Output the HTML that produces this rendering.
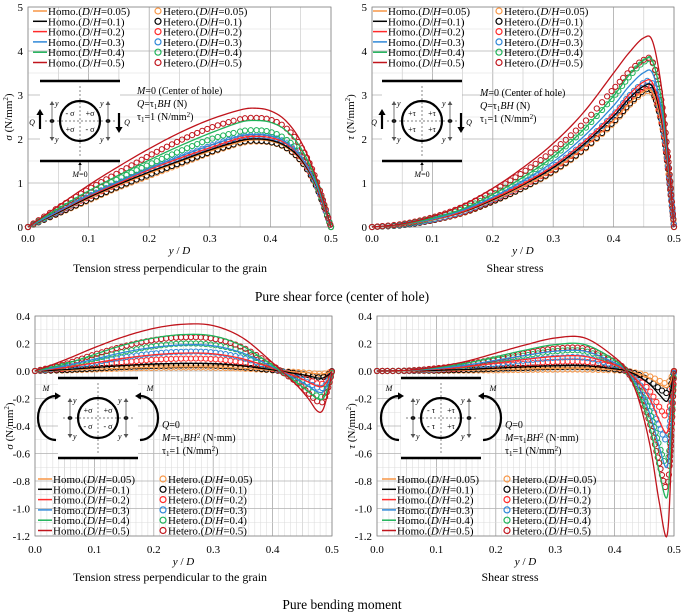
<!DOCTYPE html>
<html><head><meta charset="utf-8"><style>
body{margin:0;background:#fff;}
svg{display:block;font-family:"Liberation Serif",serif;}
svg text{font-family:"Liberation Serif",serif;}
</style></head><body>
<svg id="fig" width="685" height="616" viewBox="0 0 685 616" xmlns="http://www.w3.org/2000/svg" font-family="Liberation Serif, serif"></svg>
<script>
const colors=['#f79646','#000000','#ff2a2a','#2f88d8','#1fb35a','#c0141c'];
const labelsDH=['0.05','0.1','0.2','0.3','0.4','0.5'];

// Panel 1: tension stress, pure shear
const p1X=[0,0.05,0.1,0.15,0.2,0.25,0.3,0.35,0.375,0.4,0.425,0.45,0.475,0.5];
const p1Homo=[
[0,0.32,0.65,0.95,1.22,1.48,1.72,1.93,1.98,1.95,1.82,1.52,0.95,0],
[0,0.33,0.67,0.97,1.25,1.5,1.75,1.96,2.0,1.97,1.84,1.54,0.96,0],
[0,0.35,0.7,1.0,1.3,1.56,1.8,2.02,2.06,2.03,1.9,1.58,0.98,0],
[0,0.36,0.72,1.03,1.33,1.6,1.85,2.07,2.1,2.07,1.93,1.6,1.0,0],
[0,0.42,0.82,1.18,1.52,1.84,2.13,2.38,2.42,2.38,2.2,1.8,1.08,0],
[0,0.48,0.95,1.38,1.78,2.14,2.44,2.66,2.7,2.64,2.42,1.95,1.15,0]];
const p1Het=[
[0,0.3,0.6,0.9,1.16,1.42,1.68,1.9,1.94,1.92,1.8,1.5,0.94,0],
[0,0.31,0.62,0.92,1.19,1.45,1.7,1.92,1.96,1.93,1.81,1.51,0.95,0],
[0,0.34,0.68,0.99,1.28,1.54,1.8,2.0,2.04,2.01,1.88,1.57,0.97,0],
[0,0.35,0.7,1.01,1.31,1.58,1.84,2.05,2.08,2.05,1.92,1.6,0.99,0],
[0,0.38,0.76,1.1,1.42,1.72,1.99,2.17,2.2,2.16,2.0,1.66,1.02,0],
[0,0.44,0.86,1.24,1.62,1.96,2.25,2.45,2.48,2.44,2.26,1.84,1.1,0]];

// Panel 2: shear stress, pure shear
const p2X=[0,0.05,0.1,0.15,0.2,0.25,0.3,0.35,0.4,0.425,0.45,0.465,0.48,0.49,0.5];
const p2Homo=[
[0,0.05,0.16,0.33,0.6,0.92,1.3,1.8,2.42,2.8,3.08,3.05,2.3,1.3,0],
[0,0.05,0.17,0.34,0.62,0.96,1.35,1.87,2.52,2.91,3.2,3.17,2.39,1.35,0],
[0,0.05,0.17,0.35,0.64,0.98,1.39,1.93,2.59,3.0,3.3,3.26,2.46,1.39,0],
[0,0.06,0.18,0.38,0.68,1.05,1.48,2.05,2.76,3.19,3.51,3.48,2.62,1.48,0],
[0,0.06,0.2,0.41,0.74,1.13,1.6,2.21,2.98,3.44,3.79,3.75,2.83,1.6,0],
[0,0.07,0.24,0.5,0.88,1.35,1.9,2.6,3.5,3.95,4.3,4.2,3.1,1.7,0]];
const p2Het=[
[0,0.04,0.15,0.31,0.57,0.88,1.25,1.74,2.36,2.75,3.05,3.02,2.3,1.3,0],
[0,0.04,0.15,0.32,0.58,0.89,1.27,1.76,2.39,2.78,3.1,3.06,2.33,1.32,0],
[0,0.05,0.16,0.33,0.61,0.94,1.33,1.84,2.48,2.87,3.18,3.14,2.37,1.34,0],
[0,0.05,0.17,0.35,0.63,0.97,1.37,1.9,2.56,2.97,3.28,3.24,2.44,1.38,0],
[0,0.06,0.2,0.41,0.74,1.13,1.6,2.2,2.96,3.4,3.75,3.72,2.8,1.6,0],
[0,0.07,0.22,0.46,0.82,1.24,1.74,2.36,3.14,3.52,3.8,3.74,2.8,1.6,0]];

// Panel 3: tension stress, pure bending
const p3X=[0,0.05,0.1,0.15,0.2,0.25,0.3,0.35,0.4,0.42,0.44,0.46,0.475,0.485,0.495,0.5];
const p3Homo=[
[0,0.005,0.013,0.021,0.027,0.03,0.029,0.02,0.004,-0.002,-0.007,-0.013,-0.02,-0.02,-0.01,0],
[0,0.01,0.025,0.04,0.05,0.055,0.053,0.037,0.008,-0.005,-0.02,-0.035,-0.05,-0.05,-0.025,0],
[0,0.024,0.059,0.093,0.118,0.13,0.125,0.088,0.02,-0.01,-0.04,-0.08,-0.11,-0.11,-0.05,0],
[0,0.036,0.086,0.136,0.172,0.19,0.183,0.13,0.03,-0.015,-0.06,-0.11,-0.15,-0.15,-0.07,0],
[0,0.05,0.12,0.19,0.24,0.265,0.255,0.18,0.04,-0.02,-0.08,-0.15,-0.2,-0.2,-0.1,0],
[0,0.08,0.17,0.25,0.31,0.34,0.33,0.24,0.06,-0.02,-0.1,-0.2,-0.29,-0.28,-0.12,0]];
const p3Het=[
[0,0.004,0.011,0.018,0.023,0.025,0.024,0.017,0.004,-0.002,-0.007,-0.013,-0.02,-0.02,-0.01,0],
[0,0.007,0.018,0.029,0.036,0.04,0.039,0.027,0.006,-0.004,-0.017,-0.03,-0.045,-0.045,-0.02,0],
[0,0.017,0.041,0.064,0.082,0.09,0.087,0.061,0.014,-0.008,-0.03,-0.06,-0.09,-0.09,-0.04,0],
[0,0.026,0.063,0.1,0.127,0.14,0.135,0.095,0.021,-0.01,-0.045,-0.085,-0.12,-0.12,-0.06,0],
[0,0.04,0.09,0.14,0.18,0.2,0.19,0.14,0.03,-0.015,-0.07,-0.13,-0.18,-0.18,-0.08,0],
[0,0.05,0.12,0.18,0.225,0.245,0.235,0.17,0.04,-0.02,-0.08,-0.16,-0.22,-0.22,-0.1,0]];

// Panel 4: shear stress, pure bending
const p4X=[0,0.05,0.1,0.15,0.2,0.25,0.3,0.35,0.4,0.42,0.44,0.46,0.475,0.488,0.495,0.5];
const p4Homo=[
[0,0,0.002,0.006,0.01,0.015,0.019,0.019,0.008,0,-0.02,-0.055,-0.095,-0.12,-0.07,0],
[0,0.001,0.005,0.011,0.021,0.03,0.038,0.038,0.016,0,-0.037,-0.1,-0.17,-0.22,-0.13,0],
[0,0.002,0.013,0.031,0.057,0.084,0.106,0.106,0.044,0,-0.077,-0.21,-0.36,-0.45,-0.27,0],
[0,0.003,0.018,0.042,0.078,0.114,0.144,0.144,0.06,0,-0.12,-0.32,-0.55,-0.7,-0.42,0],
[0,0.004,0.024,0.056,0.104,0.152,0.192,0.192,0.08,0,-0.16,-0.42,-0.73,-0.92,-0.55,0],
[0,0.005,0.03,0.07,0.13,0.19,0.24,0.24,0.1,0,-0.2,-0.55,-0.95,-1.2,-0.7,0]];
const p4Het=[
[0,0,0.001,0.003,0.005,0.008,0.01,0.01,0.004,0,-0.015,-0.04,-0.07,-0.09,-0.05,0],
[0,0,0.004,0.008,0.016,0.023,0.029,0.029,0.012,0,-0.027,-0.074,-0.126,-0.16,-0.1,0],
[0,0.001,0.008,0.02,0.036,0.053,0.067,0.067,0.028,0,-0.056,-0.15,-0.26,-0.33,-0.2,0],
[0,0.002,0.012,0.028,0.052,0.076,0.096,0.096,0.04,0,-0.085,-0.23,-0.4,-0.5,-0.3,0],
[0,0.003,0.018,0.042,0.078,0.114,0.144,0.144,0.06,0,-0.12,-0.31,-0.54,-0.68,-0.41,0],
[0,0.003,0.02,0.048,0.088,0.13,0.163,0.163,0.068,0,-0.14,-0.39,-0.67,-0.85,-0.51,0]];

const topYTicks=['0','1','2','3','4','5'];
const botYTicks=['0.4','0.2','0.0','-0.2','-0.4','-0.6','-0.8','-1.0','-1.2'];
const xTicks=['0.0','0.1','0.2','0.3','0.4','0.5'];

const NS='http://www.w3.org/2000/svg';
const svg=document.getElementById('fig');
function mk(tag,attrs,parent){
  const e=document.createElementNS(NS,tag);
  for(const k in attrs)e.setAttribute(k,attrs[k]);
  (parent||svg).appendChild(e);
  return e;
}
function txt(s,x,y,size,anchor,parent,name,extra){
  const t=mk('text',Object.assign({x:x,y:y,'font-size':size,'text-anchor':anchor||'start',fill:'#000','font-family':'Liberation Serif, serif'},extra||{}),parent);
  t.innerHTML=s;
  
  
  return t;
}
function sample(xs,ys,n){
  const pts=[];
  for(let i=0;i<xs.length-1;i++){
    const x0=xs[Math.max(i-1,0)],y0=ys[Math.max(i-1,0)];
    const x1=xs[i],y1=ys[i],x2=xs[i+1],y2=ys[i+1];
    const x3=xs[Math.min(i+2,xs.length-1)],y3=ys[Math.min(i+2,xs.length-1)];
    for(let k=0;k<n;k++){
      const t=k/n,t2=t*t,t3=t2*t;
      const f=(a,b,c,d)=>0.5*(2*b+(-a+c)*t+(2*a-5*b+4*c-d)*t2+(-a+3*b-3*c+d)*t3);
      pts.push([f(x0,x1,x2,x3),f(y0,y1,y2,y3)]);
    }
  }
  pts.push([xs[xs.length-1],ys[ys.length-1]]);
  return pts;
}
function panel(cfg){
  const g=mk('g',{});
  
  
  const X=v=>cfg.x0+(v-0)/0.5*(cfg.x1-cfg.x0);
  const Y=v=>cfg.yb+(v-cfg.ymin)/(cfg.ymax-cfg.ymin)*(cfg.yt-cfg.yb);
  const grid=mk('g',{},g);
  for(let i=0;i<=50;i++){const v=i/100;
    const major=i%10===0, mid=i%5===0;
    if(!cfg.fine && !mid)continue;
    mk('line',{x1:X(v),x2:X(v),y1:cfg.yt,y2:cfg.yb,stroke:major?'#a8a8a8':(mid?'#c4c4c4':'#dedede'),'stroke-width':major?0.8:0.6},grid);
  }
  for(let v=cfg.ymin;v<=cfg.ymax+1e-9;v+=cfg.hstep){
    const isMaj=Math.abs(((v-cfg.ymin)/cfg.tstep)-Math.round((v-cfg.ymin)/cfg.tstep))<1e-6;
    mk('line',{x1:cfg.x0,x2:cfg.x1,y1:Y(v),y2:Y(v),stroke:isMaj?'#b0b0b0':'#dcdcdc','stroke-width':isMaj?0.8:0.6},grid);
  }
  mk('rect',{x:cfg.x0,y:cfg.yt,width:cfg.x1-cfg.x0,height:cfg.yb-cfg.yt,fill:'none',stroke:'#888','stroke-width':0.8},g);
  cfg.yTicks.forEach((s,i)=>{
    const val=cfg.tickDesc? cfg.ymax-i*cfg.tstep : cfg.ymin+i*cfg.tstep;
    txt(s,cfg.x0-5,Y(val)+4,11,'end',g,'y-tick-label');
  });
  xTicks.forEach((s,i)=>txt(s,X(i*0.1),cfg.yb+cfg.xtdy,11,'middle',g,'x-tick-label'));
  txt('<tspan font-style="italic">y</tspan> / <tspan font-style="italic">D</tspan>',(cfg.x0+cfg.x1)/2,cfg.yb+cfg.xtdy+12,11,'middle',g,'x-axis-title');
  const yt=txt(cfg.ytitle,0,0,11,'middle',g,'y-axis-title');
  yt.setAttribute('transform','translate('+cfg.ytx+','+((cfg.yt+cfg.yb)/2)+') rotate(-90)');
  if(cfg.diagram)cfg.diagram(g);
  const sg=mk('g',{},g);
  for(let s=0;s<6;s++){
    const pts=sample(cfg.xs,cfg.het[s],12);
    let lastx=-99,lasty=0;
    pts.forEach(p=>{
      const px=X(p[0]),py=Y(p[1]);
      const dist=Math.hypot(px-lastx,py-lasty);
      if(lastx<-50||dist>=4.8){
        const c=mk('circle',{cx:px,cy:py,r:2.6,fill:'none',stroke:colors[s],'stroke-width':1},sg);
        
        
        lastx=px;lasty=py;
      }
    });
  }
  for(let s=0;s<6;s++){
    const pts=sample(cfg.xs,cfg.homo[s],12);
    const d=pts.map((p,i)=>(i?'L':'M')+X(p[0]).toFixed(2)+' '+Y(p[1]).toFixed(2)).join(' ');
    const l=mk('path',{d:d,fill:'none',stroke:colors[s],'stroke-width':1.3},sg);
    
    
  }
  const lg=mk('g',{},g);
  for(let s=0;s<6;s++){
    const y=cfg.ly+s*10.3;
    mk('line',{x1:cfg.lx,x2:cfg.lx+14,y1:y,y2:y,stroke:colors[s],'stroke-width':1.5},lg);
    txt('Homo.(<tspan font-style="italic">D</tspan>/<tspan font-style="italic">H</tspan>='+labelsDH[s]+')',cfg.lx+15,y+4,11,'start',lg,'legend-entry');
    mk('circle',{cx:cfg.cx,cy:y,r:3,fill:'none',stroke:colors[s],'stroke-width':1.2},lg);
    txt('Hetero.(<tspan font-style="italic">D</tspan>/<tspan font-style="italic">H</tspan>='+labelsDH[s]+')',cfg.cx+5,y+4,11,'start',lg,'legend-entry');
  }
}
function arrowHead(g,x,y,dir,size,color){
  const s=size;let p;
  if(dir==='up')p=[[x,y],[x-s*0.6,y+s],[x+s*0.6,y+s]];
  else if(dir==='down')p=[[x,y],[x-s*0.6,y-s],[x+s*0.6,y-s]];
  else if(dir==='right')p=[[x,y],[x-s,y-s*0.6],[x-s,y+s*0.6]];
  else p=[[x,y],[x+s,y-s*0.6],[x+s,y+s*0.6]];
  mk('polygon',{points:p.map(q=>q.join(',')).join(' '),fill:color||'#000'},g);
}
function beamDiagram(g,L,T,cx,cy,signs,shear){
  const d=mk('g',{},g);
  mk('rect',{x:L,y:T,width:80,height:80,fill:'#fff'},d);
  mk('line',{x1:L,x2:L+80,y1:T,y2:T,stroke:'#000','stroke-width':2.5},d);
  mk('line',{x1:L,x2:L+80,y1:T+80,y2:T+80,stroke:'#000','stroke-width':2.5},d);
  mk('line',{x1:cx,x2:cx,y1:T+5,y2:T+75,stroke:'#555','stroke-width':0.7,'stroke-dasharray':'2,2'},d);
  mk('line',{x1:L+5,x2:L+75,y1:cy,y2:cy,stroke:'#555','stroke-width':0.7,'stroke-dasharray':'2,2'},d);
  mk('circle',{cx:cx,cy:cy,r:20,fill:'none',stroke:'#000','stroke-width':2.2},d);
  [-28,28].forEach(o=>{
    mk('circle',{cx:cx+o,cy:cy,r:2,fill:'#000'},d);
    mk('line',{x1:cx+o,x2:cx+o,y1:cy-19,y2:cy+19,stroke:'#555','stroke-width':0.8},d);
    arrowHead(d,cx+o,cy-20,'up',4,'#555');arrowHead(d,cx+o,cy+20,'down',4,'#555');
    txt('y',cx+o+(o<0?3:-8),cy-15,8,'start',d,'y-label',{'font-style':'italic'});
    txt('y',cx+o+(o<0?3:-8),cy+21,8,'start',d,'y-label',{'font-style':'italic'});
  });
  txt(signs[0],cx-10,cy-5,8,'middle',d,'sign-label');txt(signs[1],cx+10,cy-5,8,'middle',d,'sign-label');
  txt(signs[2],cx-10,cy+11,8,'middle',d,'sign-label');txt(signs[3],cx+10,cy+11,8,'middle',d,'sign-label');
  if(shear){
    mk('line',{x1:L,x2:L,y1:cy+8,y2:cy-6,stroke:'#000','stroke-width':2.2},d);arrowHead(d,L,cy-12,'up',6);
    mk('line',{x1:L+79,x2:L+79,y1:cy-8,y2:cy+6,stroke:'#000','stroke-width':2.2},d);arrowHead(d,L+79,cy+12,'down',6);
    txt('Q',L-8,cy+4,8,'middle',d,'q-label',{'font-style':'italic'});
    txt('Q',L+87,cy+4,8,'middle',d,'q-label',{'font-style':'italic'});
    mk('line',{x1:cx,x2:cx,y1:T+82,y2:T+90,stroke:'#000','stroke-width':0.7},d);arrowHead(d,cx,T+81,'up',3);
    txt('<tspan font-style="italic">M</tspan>=0',cx,T+96,8,'middle',d,'m-label');
  }else{
    mk('path',{d:'M '+(L-2)+' '+(cy-22)+' A 18 22 0 0 0 '+(L-2)+' '+(cy+22),fill:'none',stroke:'#000','stroke-width':2.2},d);
    mk('path',{d:'M '+(L+82)+' '+(cy-22)+' A 18 22 0 0 1 '+(L+82)+' '+(cy+22),fill:'none',stroke:'#000','stroke-width':2.2},d);
    arrowHead(d,L+3,cy-22,'right',6);
    arrowHead(d,L+77,cy-22,'left',6);
    txt('M',L-12,cy-27,8,'middle',d,'m-label',{'font-style':'italic'});
    txt('M',L+92,cy-27,8,'middle',d,'m-label',{'font-style':'italic'});
  }
}
function note(g,x,y,lines){
  lines.forEach((s,i)=>txt(s,x,y+i*13,10,'start',g,'load-note'));
}
const shearNote=['<tspan font-style="italic">M</tspan>=0 (Center of hole)','<tspan font-style="italic">Q</tspan>=τ<tspan font-size="7" dy="2">1</tspan><tspan dy="-2" font-style="italic">BH</tspan> (N)','τ<tspan font-size="7" dy="2">1</tspan><tspan dy="-2">=1 (N/mm</tspan><tspan font-size="7" dy="-3">2</tspan><tspan dy="3">)</tspan>'];
const bendNote=['<tspan font-style="italic">Q</tspan>=0','<tspan font-style="italic">M</tspan>=τ<tspan font-size="7" dy="2">1</tspan><tspan dy="-2" font-style="italic">BH</tspan><tspan font-size="7" dy="-3">2</tspan><tspan dy="3"> (N·mm)</tspan>','τ<tspan font-size="7" dy="2">1</tspan><tspan dy="-2">=1 (N/mm</tspan><tspan font-size="7" dy="-3">2</tspan><tspan dy="3">)</tspan>'];

panel({name:'tension-shear-chart',x0:28,x1:331,yt:7,yb:227,ymin:0,ymax:5,tstep:1,hstep:0.5,yTicks:topYTicks,tickDesc:false,xtdy:15,
  xs:p1X,homo:p1Homo,het:p1Het,lx:33,ly:11,cx:158,ytx:12,
  ytitle:'<tspan font-style="italic">σ</tspan> (N/mm<tspan font-size="7" dy="-4">2</tspan><tspan dy="4">)</tspan>',
  diagram:g=>{beamDiagram(g,40,81,80,121,['- σ','+σ','+σ','- σ'],true);note(g,137,94,shearNote);}});
panel({name:'shear-shear-chart',x0:372,x1:674,yt:7,yb:227,ymin:0,ymax:5,tstep:1,hstep:0.5,yTicks:topYTicks,tickDesc:false,xtdy:15,
  xs:p2X,homo:p2Homo,het:p2Het,lx:373,ly:11,cx:499,ytx:354,
  ytitle:'<tspan font-style="italic">τ</tspan> (N/mm<tspan font-size="7" dy="-4">2</tspan><tspan dy="4">)</tspan>',
  diagram:g=>{beamDiagram(g,382,81,422,121,['+τ','+τ','+τ','+τ'],true);note(g,480,96,shearNote);}});
panel({name:'tension-bending-chart',x0:35,x1:332,yt:316,yb:536,ymin:-1.2,ymax:0.4,tstep:0.2,hstep:0.1,yTicks:botYTicks,tickDesc:true,fine:true,xtdy:17,
  xs:p3X,homo:p3Homo,het:p3Het,lx:38,ly:479,cx:163,ytx:13,
  ytitle:'<tspan font-style="italic">σ</tspan> (N/mm<tspan font-size="7" dy="-4">2</tspan><tspan dy="4">)</tspan>',
  diagram:g=>{beamDiagram(g,58,378,98,418,['+σ','+σ','- σ','- σ'],false);note(g,162,428,bendNote);}});
panel({name:'shear-bending-chart',x0:377,x1:674,yt:316,yb:536,ymin:-1.2,ymax:0.4,tstep:0.2,hstep:0.1,yTicks:botYTicks,tickDesc:true,fine:true,xtdy:17,
  xs:p4X,homo:p4Homo,het:p4Het,lx:382,ly:479,cx:507,ytx:355,
  ytitle:'<tspan font-style="italic">τ</tspan> (N/mm<tspan font-size="7" dy="-4">2</tspan><tspan dy="4">)</tspan>',
  diagram:g=>{beamDiagram(g,401,378,441,418,['- τ','+τ','- τ','+τ'],false);note(g,505,428,bendNote);}});

txt('Tension stress perpendicular to the grain',170,272,12,'middle',svg,'subplot-caption');
txt('Shear stress',515,272,12,'middle',svg,'subplot-caption');
txt('Pure shear force (center of hole)',342,301,13.5,'middle',svg,'row-caption');
txt('Tension stress perpendicular to the grain',170,581,12,'middle',svg,'subplot-caption');
txt('Shear stress',510,581,12,'middle',svg,'subplot-caption');
txt('Pure bending moment',342,609,13.5,'middle',svg,'row-caption');
</script>
</body></html>
